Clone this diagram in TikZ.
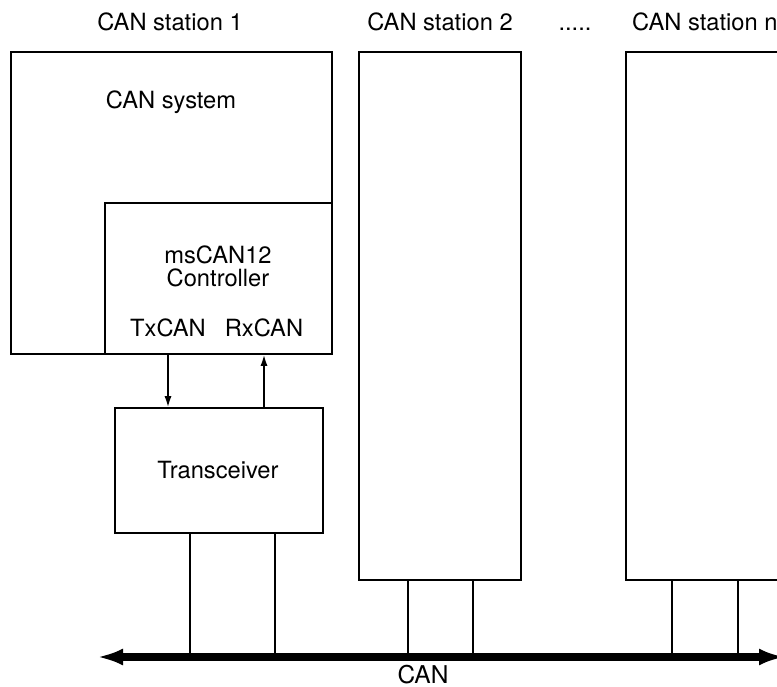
\documentclass[tikz,border=0pt]{standalone}
\usepackage{fontspec}
\setmainfont{TeX Gyre Heros}
\usetikzlibrary{arrows.meta,positioning}

\begin{document}
\begin{tikzpicture}[x=1pt,y=-1pt,
    font=\fontsize{23.7}{23}\selectfont,
    box/.style={draw,line width=1.6pt,inner sep=0pt},
    lbl/.style={inner sep=0pt,anchor=base},
    wire/.style={line width=1.6pt},
    sig/.style={line width=1.6pt,-{Latex[length=11pt,width=7pt]}},
    bus/.style={line width=8pt,{Latex[length=26pt,width=17pt]}-{Latex[length=26pt,width=17pt]}}]
  \useasboundingbox (0,0) rectangle (777,687);
  % station 1
  \node[box,minimum width=321pt,minimum height=302pt] (sys) at (171.5,203) {};
  \node[box,minimum width=227pt,minimum height=151pt] (ctrl) at (218.5,278.5) {};
  \node[lbl] (sysl) at (171,109) {CAN system};
  \node[inner sep=0pt,align=center] (ctrll) at (218,266) {msCAN12\\Controller};
  \node[lbl] (tx) at (168,336) {TxCAN};
  \node[lbl] (rx) at (264,336) {RxCAN};
  \node[box,minimum width=208pt,minimum height=125pt] (trx) at (219,470.5) {};
  \node[lbl] (trxl) at (218,478) {Transceiver};
  \draw[sig] (ctrl.south -| tx) -- (trx.north -| tx);
  \draw[sig] (trx.north -| rx) -- (ctrl.south -| rx);
  % stations 2 .. n
  \node[box,minimum width=162pt,minimum height=528pt] (st2) at (440,316) {};
  \node[box,minimum width=200pt,minimum height=528pt] (stn) at (726,316) {};
  \node[lbl] (t1) at (170,31) {CAN station 1};
  \node[lbl] (t2) at (440,31) {CAN station 2};
  \node[lbl] (dots) at (575,31) {.....};
  \node[lbl,anchor=base west] (tn) at (632,31) {CAN station n};
  % bus
  \coordinate (busL) at (97,657);
  \coordinate (busR) at (785,657);
  \draw[bus] (busL) -- (busR);
  \node[lbl,font=\fontsize{24.5}{25}\selectfont] (busl) at (423,683) {CAN};
  \foreach \n/\x in {trx/190,trx/275,st2/408,st2/473,stn/672,stn/738}{
    \coordinate (drop) at (\x,0);
    \draw[wire] (\n.south -| drop) -- (busL -| drop);
  }
\end{tikzpicture}
\end{document}
